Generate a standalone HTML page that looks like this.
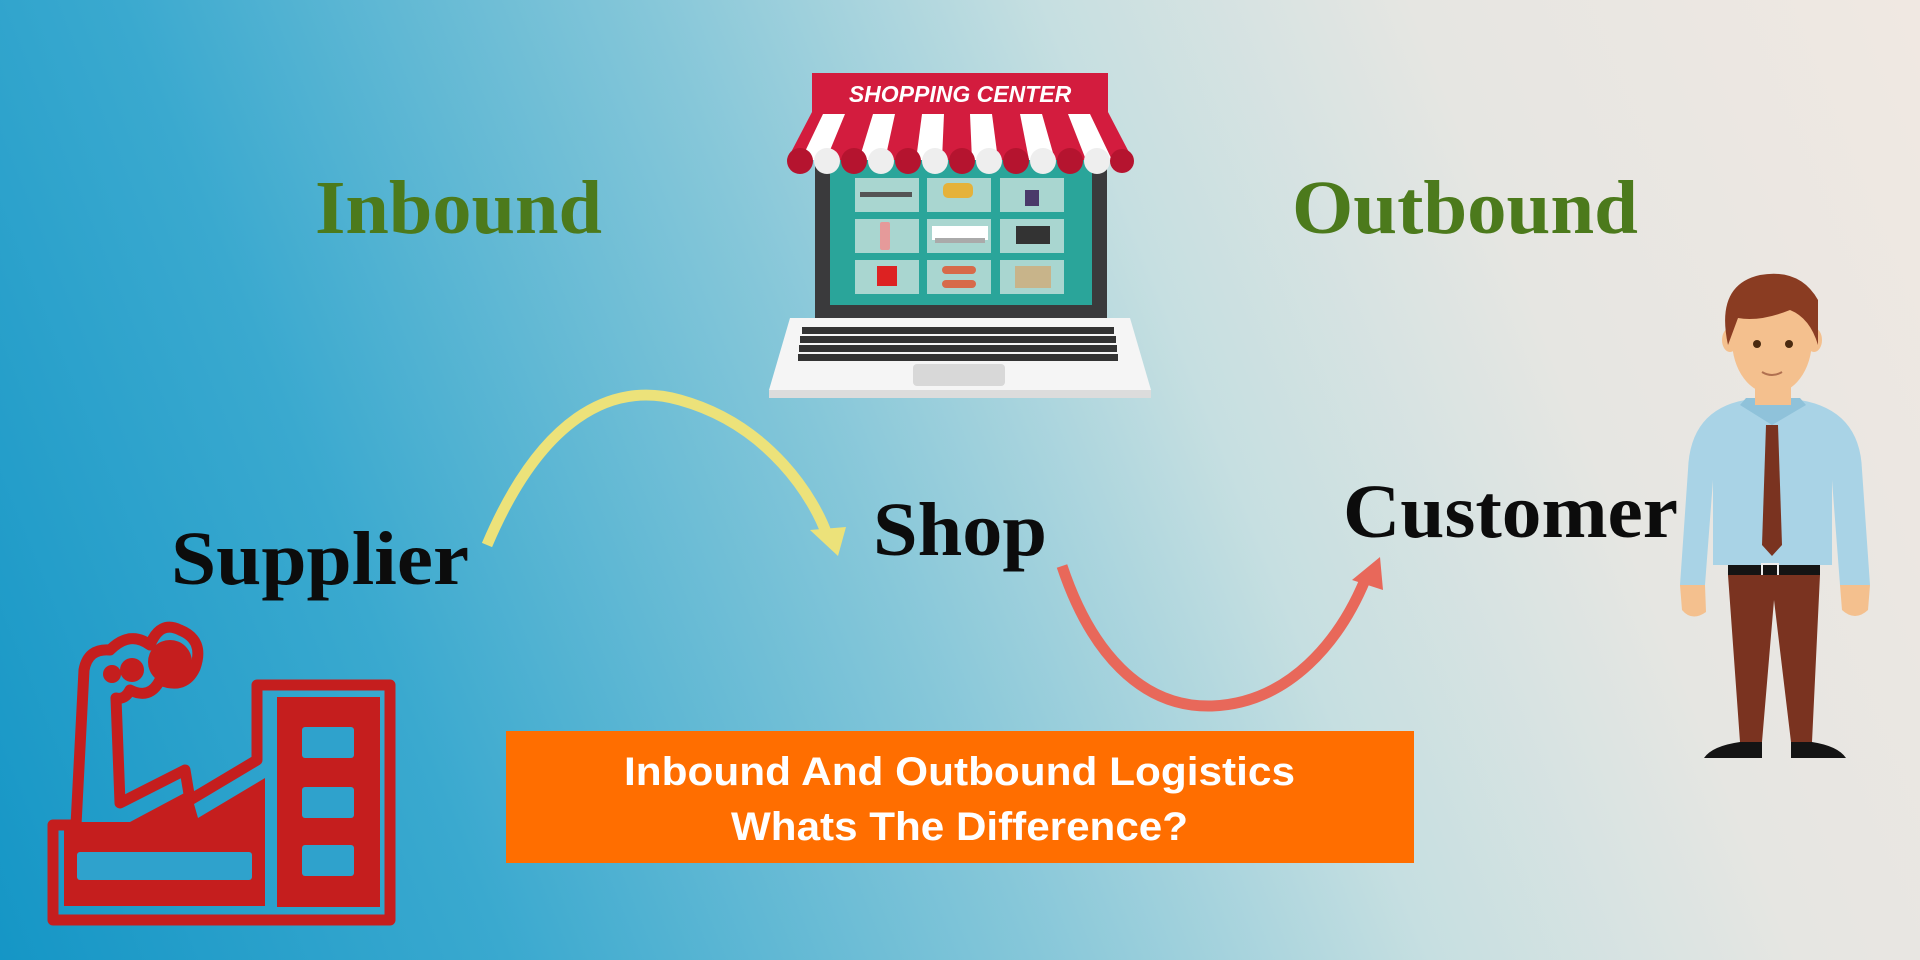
<!DOCTYPE html>
<html><head><meta charset="utf-8"><style>
html,body{margin:0;padding:0;width:1920px;height:960px;overflow:hidden}
body{background:linear-gradient(68deg,#1596c6 0%,#3aa9cf 22%,#86c7d9 45%,#c6dfe1 62%,#e6e6e2 78%,#f0e8e2 100%)}
svg{position:absolute;left:0;top:0}
</style></head><body>
<svg width="1920" height="960" viewBox="0 0 1920 960" xmlns="http://www.w3.org/2000/svg">
<!-- titles -->
<text x="315" y="233" font-family="Liberation Serif,serif" font-weight="bold" font-size="76" fill="#4c7a1c" textLength="287" lengthAdjust="spacingAndGlyphs">Inbound</text>
<text x="1292" y="233" font-family="Liberation Serif,serif" font-weight="bold" font-size="76" fill="#4c7a1c" textLength="346" lengthAdjust="spacingAndGlyphs">Outbound</text>
<text x="171" y="584" font-family="Liberation Serif,serif" font-weight="bold" font-size="76" fill="#0c0c0c" textLength="298" lengthAdjust="spacingAndGlyphs">Supplier</text>
<text x="873" y="555" font-family="Liberation Serif,serif" font-weight="bold" font-size="76" fill="#0c0c0c" textLength="174" lengthAdjust="spacingAndGlyphs">Shop</text>
<text x="1343" y="537" font-family="Liberation Serif,serif" font-weight="bold" font-size="76" fill="#0c0c0c" textLength="335" lengthAdjust="spacingAndGlyphs">Customer</text>

<!-- arrows -->
<path d="M487,545 C540,420 610,380 680,400 C770,425 815,500 827,535" fill="none" stroke="#ece27a" stroke-width="11"/>
<polygon points="810,530 846,527 838,556" fill="#ece27a"/>
<path d="M1062,566 C1090,650 1140,708 1212,706 C1290,703 1340,640 1365,580" fill="none" stroke="#e8685a" stroke-width="11"/>
<polygon points="1352,580 1380,557 1383,590" fill="#e8685a"/>

<!-- orange box -->
<rect x="506" y="731" width="908" height="132" fill="#ff6e00"/>
<text x="624" y="785" font-family="Liberation Sans,sans-serif" font-weight="bold" font-size="40" fill="#fff" textLength="671" lengthAdjust="spacingAndGlyphs">Inbound And Outbound Logistics</text>
<text x="731" y="840" font-family="Liberation Sans,sans-serif" font-weight="bold" font-size="40" fill="#fff" textLength="457" lengthAdjust="spacingAndGlyphs">Whats The Difference?</text>

<!-- laptop -->
<rect x="815" y="150" width="292" height="168" fill="#3a3a3c"/>
<rect x="830" y="160" width="262" height="145" fill="#2aa59a"/>
<g fill="#a9d6d0">
<rect x="855" y="178" width="64" height="34"/><rect x="927" y="178" width="64" height="34"/><rect x="1000" y="178" width="64" height="34"/>
<rect x="855" y="219" width="64" height="34"/><rect x="927" y="219" width="64" height="34"/><rect x="1000" y="219" width="64" height="34"/>
<rect x="855" y="260" width="64" height="34"/><rect x="927" y="260" width="64" height="34"/><rect x="1000" y="260" width="64" height="34"/>
</g>
<rect x="860" y="192" width="52" height="5" fill="#555"/>
<rect x="943" y="183" width="30" height="15" rx="5" fill="#e5b23a"/>
<rect x="1025" y="190" width="14" height="16" fill="#4a3a6a"/>
<rect x="880" y="222" width="10" height="28" rx="2" fill="#e59a9a"/>
<rect x="932" y="226" width="56" height="14" fill="#fff"/><rect x="935" y="238" width="50" height="5" fill="#aaa"/>
<rect x="1016" y="226" width="34" height="18" fill="#333"/>
<rect x="877" y="266" width="20" height="20" fill="#d22"/>
<rect x="942" y="266" width="34" height="8" rx="4" fill="#d76a4a"/><rect x="942" y="280" width="34" height="8" rx="4" fill="#d76a4a"/>
<rect x="1015" y="266" width="36" height="22" fill="#c8b48a"/>
<path d="M787,160 L812,112 L1108,112 L1133,160 Z" fill="#d31c3e"/>
<g fill="#fff">
<path d="M823,114 L845,114 L826,160 L801,160 Z"/>
<path d="M873,114 L895,114 L885,160 L859,160 Z"/>
<path d="M922,114 L944,114 L942,160 L916,160 Z"/>
<path d="M970,114 L992,114 L998,160 L972,160 Z"/>
<path d="M1020,114 L1042,114 L1055,160 L1029,160 Z"/>
<path d="M1068,114 L1090,114 L1112,160 L1086,160 Z"/>
</g>
<g>
<circle cx="800" cy="161" r="13" fill="#b5142f"/><circle cx="827" cy="161" r="13" fill="#eee"/>
<circle cx="854" cy="161" r="13" fill="#b5142f"/><circle cx="881" cy="161" r="13" fill="#eee"/>
<circle cx="908" cy="161" r="13" fill="#b5142f"/><circle cx="935" cy="161" r="13" fill="#eee"/>
<circle cx="962" cy="161" r="13" fill="#b5142f"/><circle cx="989" cy="161" r="13" fill="#eee"/>
<circle cx="1016" cy="161" r="13" fill="#b5142f"/><circle cx="1043" cy="161" r="13" fill="#eee"/>
<circle cx="1070" cy="161" r="13" fill="#b5142f"/><circle cx="1097" cy="161" r="13" fill="#eee"/>
<circle cx="1122" cy="161" r="12" fill="#b5142f"/>
</g>
<rect x="787" y="148" width="346" height="13" fill="none"/>
<rect x="812" y="73" width="296" height="39" fill="#d31c3e"/>
<text x="960" y="102" text-anchor="middle" font-family="Liberation Sans,sans-serif" font-weight="bold" font-style="italic" font-size="23" fill="#fff">SHOPPING CENTER</text>
<path d="M790,318 L1130,318 L1151,390 L769,390 Z" fill="#f5f5f5"/>
<rect x="769" y="390" width="382" height="8" fill="#dcdcdc"/>
<g fill="#333">
<rect x="802" y="327" width="312" height="7"/><rect x="800" y="336" width="316" height="7"/><rect x="799" y="345" width="318" height="7"/><rect x="798" y="354" width="320" height="7"/>
</g>
<rect x="913" y="364" width="92" height="22" rx="4" fill="#d8d8d8"/>

<!-- factory -->
<g fill="none" stroke="#c51e1e" stroke-width="11" stroke-linejoin="round">
<path d="M53,825 L76,825 L84,670 Q88,648 110,650 Q130,630 150,645 Q160,620 180,630 Q205,640 195,668 Q185,690 160,680 Q150,700 130,690 Q125,700 116,698 L120,803 L185,770 L190,800 L257,760 L257,685 L390,685 L390,920 L53,920 Z"/>
</g>
<g fill="#c51e1e">
<circle cx="170" cy="662" r="22"/><circle cx="132" cy="670" r="12"/><circle cx="112" cy="674" r="9"/>
<path d="M64,835 L64,906 L265,906 L265,778 L198,818 L190,790 L130,822 L64,822 Z"/>
<rect x="277" y="697" width="103" height="210"/>
</g>
<g fill="#2fa2cc">
<rect x="77" y="852" width="175" height="28" rx="3"/>
<rect x="302" y="727" width="52" height="31" rx="3"/><rect x="302" y="787" width="52" height="31" rx="3"/><rect x="302" y="845" width="52" height="31" rx="3"/>
</g>

<!-- man -->
<path d="M1745,400 L1800,400 Q1860,410 1862,470 L1870,585 L1840,585 L1832,480 L1832,565 L1713,565 L1713,480 L1705,585 L1680,585 L1688,470 Q1690,410 1745,400 Z" fill="#a9d3e6"/>
<path d="M1740,405 L1772,425 L1806,405 L1800,398 L1746,398 Z" fill="#8fc2da"/>
<rect x="1755" y="370" width="36" height="35" fill="#f4c08e"/>
<ellipse cx="1772" cy="340" rx="40" ry="54" fill="#f4c08e"/>
<ellipse cx="1730" cy="340" rx="8" ry="12" fill="#f4c08e"/><ellipse cx="1814" cy="340" rx="8" ry="12" fill="#f4c08e"/>
<path d="M1728,345 Q1715,285 1760,275 Q1800,268 1818,300 L1818,345 Q1810,318 1790,310 Q1760,322 1738,318 Z" fill="#8a3c22"/>
<circle cx="1757" cy="344" r="4" fill="#4a2a10"/><circle cx="1789" cy="344" r="4" fill="#4a2a10"/>
<path d="M1762,372 Q1772,378 1782,372" fill="none" stroke="#b07050" stroke-width="2"/>
<path d="M1766,425 L1778,425 L1782,545 L1772,556 L1762,545 Z" fill="#7a3320"/>
<path d="M1680,585 L1705,585 L1706,612 Q1692,622 1682,610 Z" fill="#f4c08e"/>
<path d="M1840,585 L1870,585 L1868,610 Q1855,622 1842,610 Z" fill="#f4c08e"/>
<rect x="1728" y="565" width="92" height="10" fill="#141414"/>
<rect x="1762" y="564" width="16" height="12" fill="none" stroke="#eee" stroke-width="2"/>
<path d="M1728,575 L1820,575 L1812,742 L1791,742 L1774,600 L1762,742 L1740,742 Z" fill="#7a3320"/>
<path d="M1740,742 L1762,742 L1762,758 L1704,758 Q1712,746 1740,742 Z" fill="#141414"/>
<path d="M1791,742 L1812,742 Q1838,746 1846,758 L1791,758 Z" fill="#141414"/>
</svg>
</body></html>
